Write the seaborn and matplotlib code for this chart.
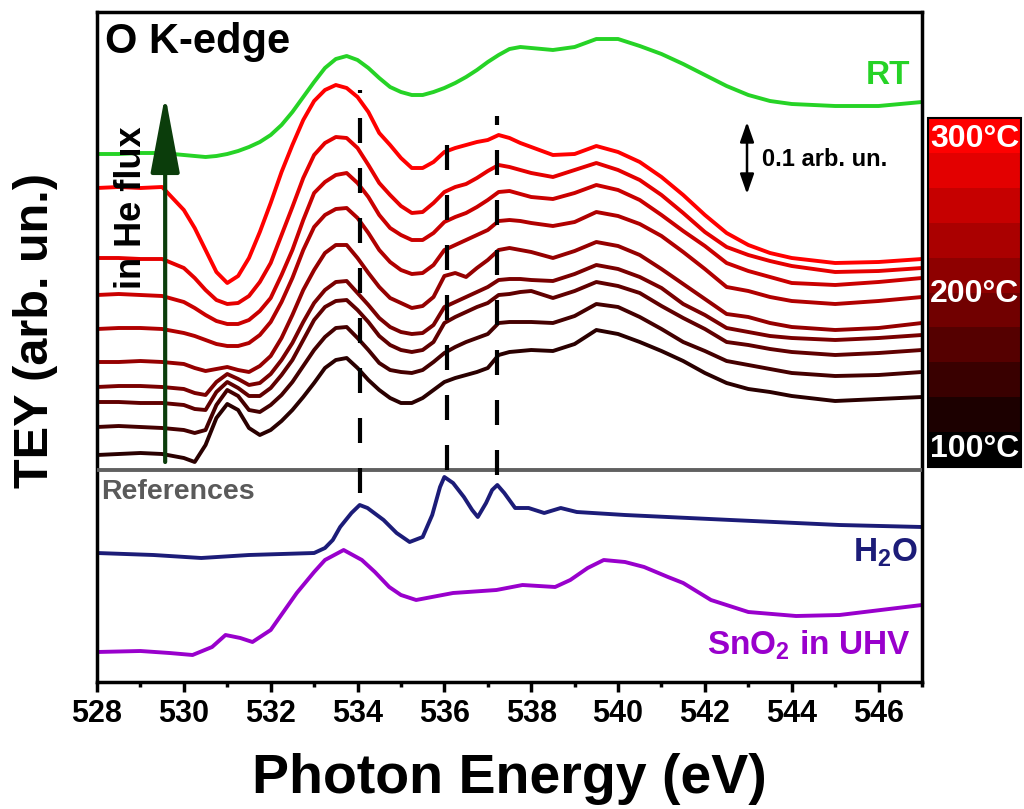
import numpy as np
import pandas as pd
import seaborn as sns
import matplotlib.pyplot as plt
from matplotlib.colors import LinearSegmentedColormap, BoundaryNorm
from matplotlib.cm import ScalarMappable
from matplotlib.ticker import MultipleLocator

# photon energy grid of the in-situ spectra (eV)
energy = [528, 528.5, 529, 529.5, 530, 530.25, 530.5, 530.75, 531, 531.25,
          531.5, 531.75, 532, 532.25, 532.5, 532.75, 533, 533.25, 533.5, 533.75,
          534, 534.25, 534.5, 534.75, 535, 535.25, 535.5, 535.75, 536, 536.25,
          536.5, 536.75, 537, 537.25, 537.5, 537.75, 538, 538.5, 539, 539.5,
          540, 540.5, 541, 541.5, 542, 542.5, 543, 543.5, 544, 545, 546, 547]

# TEY, stacked with offsets (72 counts = 0.1 arb. un.)
tey_rt = [528, 528, 529, 529, 527, 526, 525, 526, 528, 531,
          535, 540, 547, 557, 570, 585, 600, 614, 623, 626,
          622, 614, 604, 595, 590, 587, 587, 590, 594, 599,
          605, 612, 620, 627, 633, 635, 634, 632, 635, 643,
          643, 636, 628, 618, 607, 596, 587, 581, 578, 576, 576, 580]
tey_300 = [494, 495, 494, 495, 472, 454, 432, 410, 399, 406,
           424, 450, 479, 510, 537, 562, 581, 592, 597, 594,
           585, 570, 549, 537, 524, 514, 514, 520, 530, 534,
           537, 540, 542, 547, 544, 539, 535, 527, 528, 536,
           530, 520, 505, 487, 467, 449, 437, 429, 424, 419, 420, 423]
tey_275 = [424, 424, 423, 423, 414, 404, 392, 382, 378, 379,
           386, 400, 419, 447, 475, 504, 527, 539, 545, 544,
           534, 517, 499, 487, 476, 469, 470, 479, 490, 495,
           498, 504, 511, 517, 515, 512, 509, 505, 512, 519,
           512, 502, 487, 469, 450, 435, 427, 421, 416, 410, 411, 414]
tey_250 = [387, 388, 387, 386, 380, 374, 367, 361, 358, 358,
           362, 371, 384, 407, 432, 462, 489, 500, 507, 509,
           499, 485, 467, 454, 447, 442, 442, 449, 460, 465,
           469, 475, 482, 490, 491, 488, 485, 483, 489, 497,
           492, 482, 467, 451, 436, 419, 411, 405, 399, 397, 400, 404]
tey_225 = [353, 354, 354, 353, 349, 346, 342, 338, 336, 336,
           339, 347, 360, 380, 404, 432, 455, 467, 473, 474,
           464, 449, 432, 420, 412, 408, 409, 417, 432, 437,
           442, 447, 452, 461, 462, 461, 459, 456, 460, 470,
           466, 458, 446, 430, 413, 395, 391, 385, 381, 378, 381, 385]
tey_200 = [320, 320, 321, 320, 318, 314, 311, 313, 315, 312,
           310, 316, 326, 344, 367, 392, 412, 429, 437, 437,
           424, 409, 395, 384, 379, 374, 376, 385, 406, 409,
           405, 414, 422, 432, 434, 432, 430, 424, 431, 440,
           436, 427, 413, 398, 383, 368, 365, 359, 355, 352, 354, 359]
tey_175 = [295, 296, 296, 295, 293, 289, 287, 300, 308, 303,
           297, 299, 308, 322, 339, 360, 379, 392, 400, 401,
           389, 377, 364, 355, 350, 348, 349, 357, 375, 380,
           385, 390, 395, 402, 403, 403, 402, 401, 408, 417,
           413, 405, 394, 378, 367, 354, 350, 346, 344, 342, 344, 347]
tey_150 = [280, 280, 279, 279, 277, 273, 272, 290, 300, 294,
           286, 286, 294, 307, 322, 342, 362, 375, 381, 382,
           372, 360, 346, 337, 332, 330, 332, 340, 359, 365,
           370, 375, 379, 387, 388, 390, 391, 384, 391, 400,
           396, 389, 376, 364, 353, 340, 337, 333, 330, 327, 329, 332]
tey_125 = [255, 256, 255, 254, 252, 249, 252, 277, 292, 286,
           272, 270, 277, 287, 300, 316, 332, 345, 354, 355,
           344, 332, 319, 312, 310, 309, 312, 320, 329, 335,
           340, 344, 348, 359, 360, 360, 360, 359, 366, 378,
           375, 365, 353, 340, 331, 321, 317, 313, 309, 306, 307, 310]
tey_100 = [227, 228, 229, 228, 224, 220, 237, 264, 278, 272,
           254, 247, 252, 261, 272, 285, 299, 314, 322, 324,
           314, 302, 292, 284, 279, 279, 284, 292, 300, 304,
           307, 310, 314, 327, 330, 331, 332, 331, 338, 352,
           348, 340, 331, 321, 309, 299, 293, 290, 286, 281, 283, 285]

temperatures = [300, 275, 250, 225, 200, 175, 150, 125, 100]
heated = [tey_300, tey_275, tey_250, tey_225, tey_200, tey_175, tey_150, tey_125, tey_100]

# reference spectra
h2o_energy = [528, 529.3, 530.4, 531.5, 533.0, 533.25, 533.43, 533.6, 533.86, 534.05,
              534.23, 534.6, 534.9, 535.2, 535.5, 535.72, 535.9, 536.0, 536.2, 536.45,
              536.64, 536.77, 536.96, 537.1, 537.22, 537.38, 537.63, 537.94, 538.3, 538.68,
              539.05, 540.16, 542.6, 545.1, 547]
h2o_tey = [129, 127, 124, 127, 129, 134, 142, 155, 169, 177,
           174, 162, 149, 140, 145, 167, 195, 205, 199, 185,
           172, 165, 179, 192, 197, 189, 174, 174, 169, 174,
           170, 167, 162, 157, 155]
sno2_energy = [528, 529.0, 529.67, 530.2, 530.65, 530.96, 531.3, 531.58, 532.0, 532.6,
               533.0, 533.25, 533.68, 534.1, 534.4, 534.73, 535.0, 535.35, 536.2, 537.2,
               537.8, 538.55, 538.9, 539.3, 539.67, 540.16, 540.6, 541.15, 541.5, 542.14,
               543.0, 544.1, 545.1, 547]
sno2_tey = [30, 31, 29, 27, 35, 47, 44, 40, 52, 89,
            110, 122, 132, 122, 110, 95, 87, 82, 89, 92,
            97, 95, 102, 114, 122, 120, 115, 105, 99, 82,
            70, 66, 67, 77]

# marked features (dashed lines)
feature_energy = [534.05, 536.05, 537.22]
feature_low = [189, 212, 207]
feature_high = [592, 537, 566]
separator = 212
scale_bar = 72

cbar_bounds = [100, 120, 140, 160, 180, 200, 220, 240, 260, 280, 300]

sns.set_style("ticks")
plt.rcParams['font.family'] = ['Liberation Sans', 'DejaVu Sans']
plt.rcParams['font.weight'] = 'bold'
plt.rcParams['mathtext.fontset'] = 'custom'
plt.rcParams['mathtext.rm'] = 'Liberation Sans:bold'
plt.rcParams['mathtext.default'] = 'rm'
plt.rcParams.update({'text.color': 'black', 'axes.labelcolor': 'black',
                     'xtick.color': 'black', 'axes.edgecolor': 'black',
                     'lines.solid_joinstyle': 'round', 'lines.solid_capstyle': 'round'})

black_red = LinearSegmentedColormap.from_list("black_red", ["#000000", "#ff0000"])
green = "#26d326"
navy = "#1c1c78"
purple = "#9900cc"

fig = plt.figure(figsize=(10.24, 8.09), dpi=100)
ax = fig.add_axes([97 / 1024, 1 - 682 / 809, 825 / 1024, 670 / 809])

df = pd.concat([pd.DataFrame({"energy": energy, "tey": v, "T": t})
                for t, v in zip(temperatures, heated)], ignore_index=True)
sns.lineplot(data=df, x="energy", y="tey", hue="T", palette=black_red, hue_norm=(60, 300),
             lw=2.8, legend=False, errorbar=None, ax=ax)
sns.lineplot(x=energy, y=tey_rt, color=green, lw=2.8, ax=ax)
sns.lineplot(x=h2o_energy, y=h2o_tey, color=navy, lw=2.8, ax=ax)
sns.lineplot(x=sno2_energy, y=sno2_tey, color=purple, lw=2.8, ax=ax)

ax.vlines(feature_energy, feature_low, feature_high, colors="black",
          linestyles=(0, (6, 6)), lw=3, zorder=5)
ax.axhline(separator, color="#606060", lw=2.8, zorder=4)

# in He flux arrow
ax.annotate("", xy=(529.57, 587), xytext=(529.57, 220),
            arrowprops=dict(arrowstyle="-|>,head_length=2.4,head_width=0.45",
                            color="#0b3d0b", lw=3, mutation_scale=20,
                            shrinkA=0, shrinkB=0))
ax.text(528.8, 474, "in He flux", rotation=90, ha="center", va="center", fontsize=26)

# scale bar
ax.annotate("", xy=(542.97, 560), xytext=(542.97, 560 - scale_bar),
            arrowprops=dict(arrowstyle="<|-|>,head_length=1.0,head_width=0.35",
                            color="black", lw=1.8, mutation_scale=12,
                            shrinkA=0, shrinkB=0))
ax.text(543.32, 522, "0.1 arb. un.", ha="left", va="center", fontsize=17)

ax.text(528.18, 629, "O K-edge", ha="left", va="baseline", fontsize=30)
ax.text(546.72, 607, "RT", ha="right", va="center", fontsize=24, color=green)
ax.text(528.09, 190, "References", ha="left", va="center", fontsize=20.5, color="#5a5a5a")
ax.text(546.9, 129, "H$_2$O", ha="right", va="center", fontsize=24, color=navy)
ax.text(546.72, 37, "SnO$_2$ in UHV", ha="right", va="center", fontsize=24, color=purple)

ax.set_xlim(528, 547)
ax.set_ylim(0, 670)
ax.set_xticks([528, 530, 532, 534, 536, 538, 540, 542, 544, 546])
ax.xaxis.set_minor_locator(MultipleLocator(1))
ax.set_yticks([])
ax.tick_params(axis="x", which="major", direction="out", length=7, width=2.5,
               labelsize=22, pad=5)
ax.tick_params(axis="x", which="minor", direction="out", length=3.5, width=2.5)
for s in ax.spines.values():
    s.set_linewidth(2.5)
    s.set_visible(True)

ax.set_xlabel("Photon Energy (eV)", fontsize=40, fontweight="bold", va="center")
ax.xaxis.set_label_coords(0.5, -0.145)
ax.set_ylabel("TEY (arb. un.)", fontsize=35, fontweight="bold", va="center")
ax.yaxis.set_label_coords(-0.074, 0.525)

# temperature colour bar
cax = fig.add_axes([928 / 1024, 1 - 467 / 809, 93 / 1024, 349 / 809])
norm = BoundaryNorm(cbar_bounds, 10)
cb = fig.colorbar(ScalarMappable(norm=norm, cmap=black_red.resampled(10)), cax=cax)
cb.set_ticks([])
cb.minorticks_off()
cax.tick_params(which="both", length=0)
cb.outline.set_linewidth(1.5)
for y, lab in [(0.94, "300°C"), (0.496, "200°C"), (0.052, "100°C")]:
    cax.text(0.5, y, lab, transform=cax.transAxes, color="white",
             ha="center", va="center", fontsize=23)

fig.savefig("out.png", dpi=100, facecolor="white")
